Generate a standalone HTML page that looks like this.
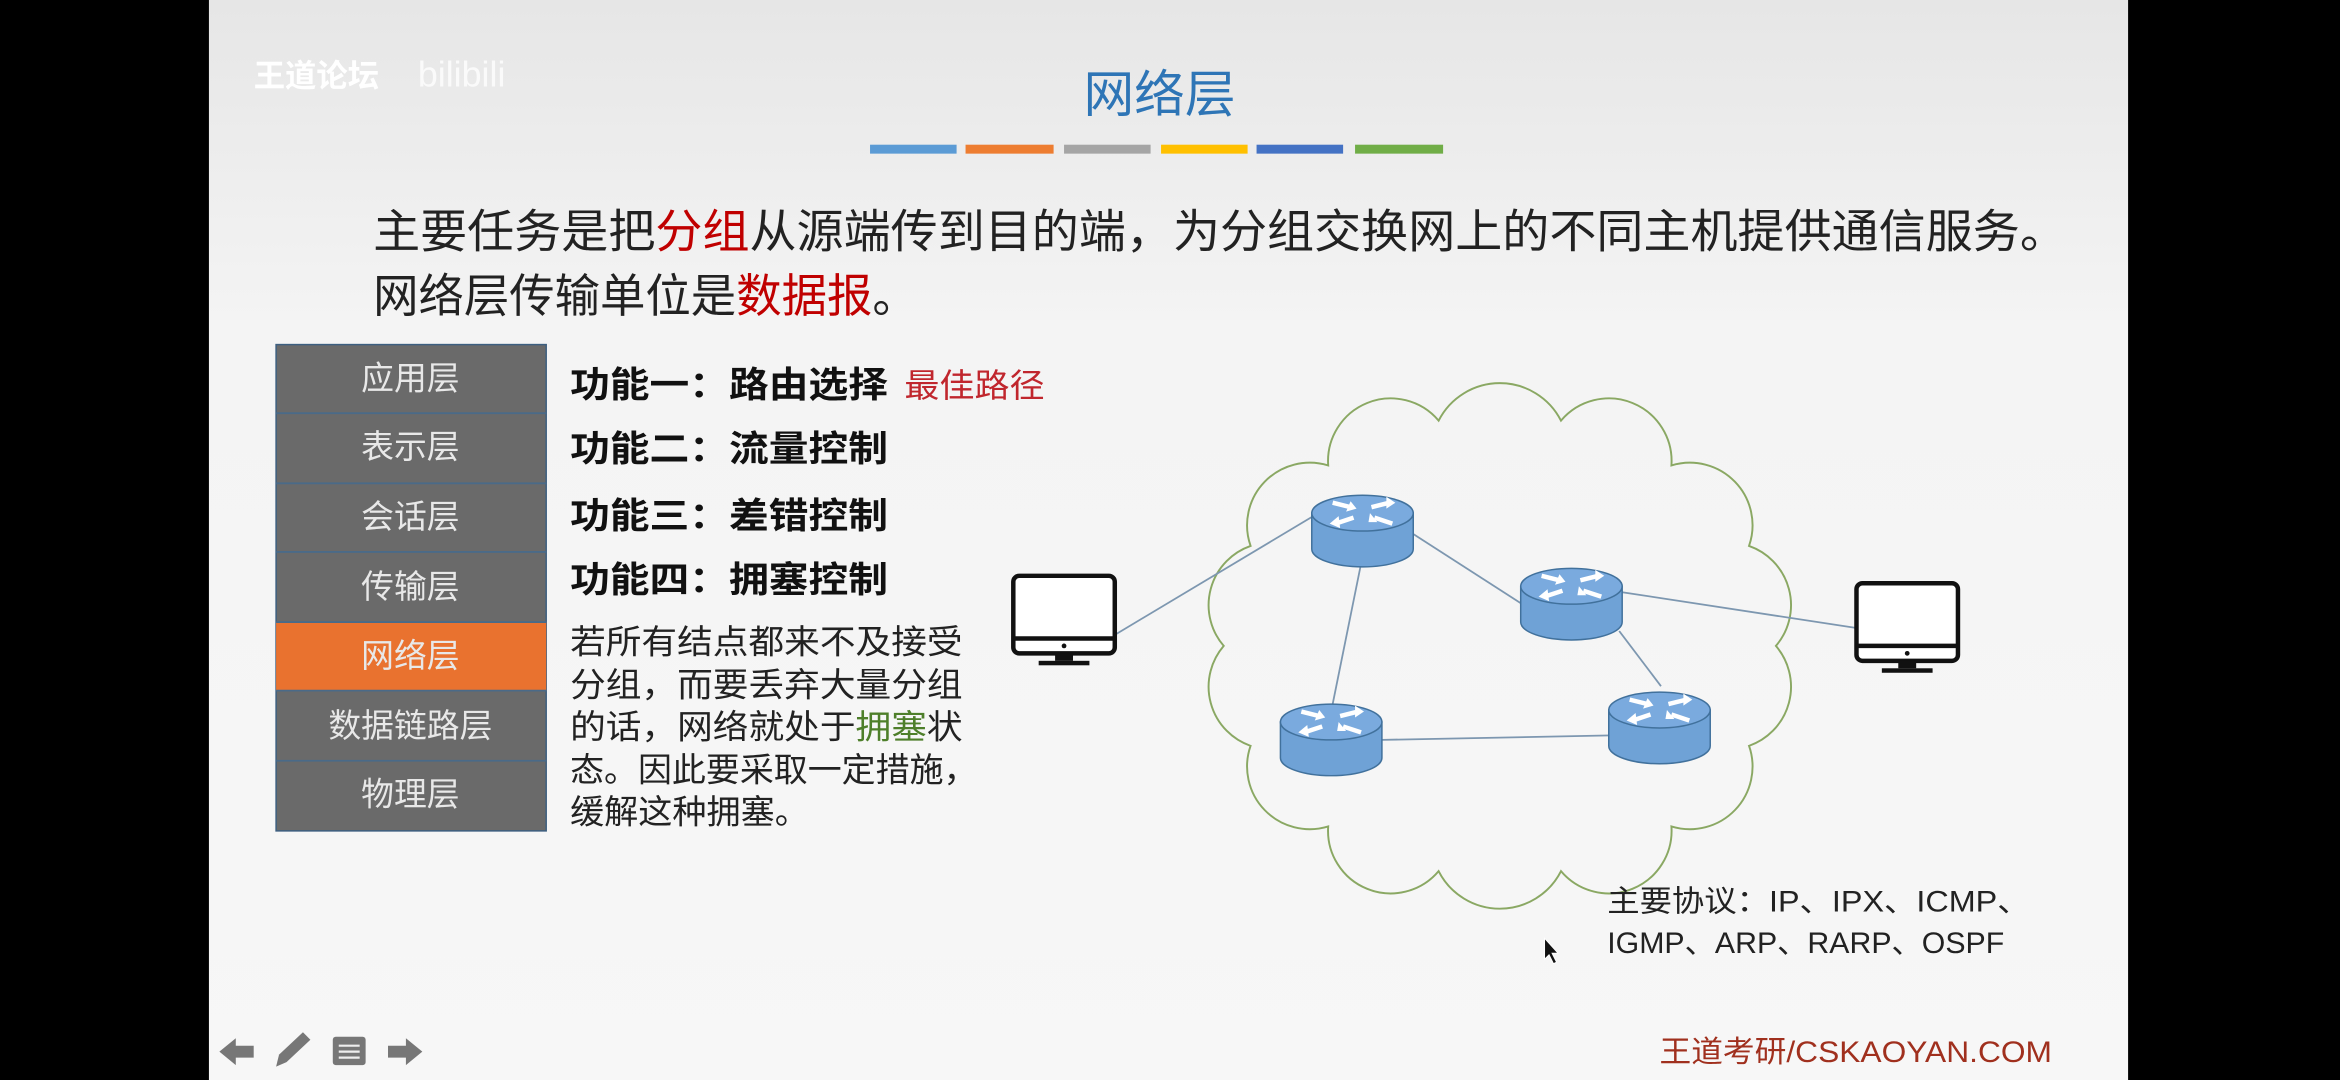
<!DOCTYPE html>
<html><head><meta charset="utf-8"><style>
html,body{margin:0;padding:0;background:#000;}
svg{display:block;}
text{font-family:"Liberation Sans","Noto Sans CJK SC",sans-serif;}
</style></head><body>
<svg width="2340" height="1080" viewBox="0 0 1568 724" preserveAspectRatio="none" xmlns="http://www.w3.org/2000/svg">
<defs>
<linearGradient id="bg" x1="0" y1="0" x2="0" y2="1">
<stop offset="0" stop-color="#e6e6e6"/><stop offset="0.3" stop-color="#f4f4f4"/><stop offset="1" stop-color="#f7f7f7"/>
</linearGradient>
<g id="router">
<path d="M-34,0 L-34,24 A34,12 0 0 0 34,24 L34,0 Z" fill="#6fa2d6" stroke="#41719c" stroke-width="1"/>
<ellipse cx="0" cy="0" rx="34" ry="12" fill="#7aaade" stroke="#41719c" stroke-width="1"/>
<g stroke="#fff" stroke-width="3" fill="#fff">
<path d="M-20,-7 L-8,-4" /><path d="M-8,-8 L-4,-3 L-11,-1 Z" stroke-width="0"/>
<path d="M6,-4 L18,-7"/><path d="M16,-11 L22,-7 L16,-3 Z" stroke-width="0"/>
<path d="M-6,3 L-18,7"/><path d="M-16,2 L-22,7 L-15,10 Z" stroke-width="0"/>
<path d="M20,7 L8,3"/><path d="M5,0 L4,6 L10,6 Z" stroke-width="0"/>
</g>
</g>
<g id="pc">
<rect x="-34" y="-28" width="68" height="52" rx="4" fill="#fff" stroke="#111" stroke-width="3"/>
<line x1="-34" y1="14" x2="34" y2="14" stroke="#111" stroke-width="3"/>
<circle cx="0" cy="19" r="1.6" fill="#111"/>
<rect x="-6" y="24" width="12" height="5" fill="#111"/>
<rect x="-17" y="29" width="34" height="3" fill="#111"/>
</g>
</defs>
<rect x="0" y="0" width="1568" height="724" fill="#000"/>
<rect x="140" y="0" width="1286" height="724" fill="url(#bg)"/>

<text x="170" y="58" font-size="21" fill="#fff" font-weight="bold">王道论坛</text>
<text x="280" y="58" font-size="24" fill="#fff" opacity="0.8">bilibili</text>

<text x="777" y="75" font-size="34" fill="#2e75b6" text-anchor="middle">网络层</text>
<rect x="583" y="97" width="58" height="6" fill="#5b9bd5"/>
<rect x="647" y="97" width="59" height="6" fill="#ed7d31"/>
<rect x="713" y="97" width="58" height="6" fill="#a5a5a5"/>
<rect x="778" y="97" width="58" height="6" fill="#ffc000"/>
<rect x="842" y="97" width="58" height="6" fill="#4472c4"/>
<rect x="908" y="97" width="59" height="6" fill="#70ad47"/>

<text x="250" y="166" font-size="31" fill="#222" textLength="1135" lengthAdjust="spacingAndGlyphs">主要任务是把<tspan fill="#c00000">分组</tspan>从源端传到目的端，为分组交换网上的不同主机提供通信服务。</text>
<text x="250" y="209" font-size="31" fill="#222" textLength="365" lengthAdjust="spacingAndGlyphs">网络层传输单位是<tspan fill="#c00000">数据报</tspan>。</text>

<g font-size="22" fill="#e8e8e8" text-anchor="middle">
<rect x="185" y="231" width="181" height="326" fill="#6a6a6a" stroke="#3d5f80" stroke-width="1"/>
<rect x="185" y="417" width="181" height="46" fill="#e9722f"/>
<g stroke="#4a6a88" stroke-width="1.2">
<line x1="185" y1="277" x2="366" y2="277"/><line x1="185" y1="324" x2="366" y2="324"/>
<line x1="185" y1="370" x2="366" y2="370"/><line x1="185" y1="417" x2="366" y2="417"/>
<line x1="185" y1="463" x2="366" y2="463"/><line x1="185" y1="510" x2="366" y2="510"/>
</g>
<text x="275" y="261">应用层</text>
<text x="275" y="307">表示层</text>
<text x="275" y="354">会话层</text>
<text x="275" y="401">传输层</text>
<text x="275" y="447">网络层</text>
<text x="275" y="494">数据链路层</text>
<text x="275" y="540">物理层</text>
</g>

<g font-size="24" fill="#111" font-weight="bold">
<text x="382" y="266" textLength="213" lengthAdjust="spacingAndGlyphs">功能一：路由选择</text>
<text x="606" y="266" fill="#c0262d" font-weight="normal" font-size="22" textLength="94" lengthAdjust="spacingAndGlyphs">最佳路径</text>
<text x="382" y="309" textLength="213" lengthAdjust="spacingAndGlyphs">功能二：流量控制</text>
<text x="382" y="354" textLength="213" lengthAdjust="spacingAndGlyphs">功能三：差错控制</text>
<text x="382" y="397" textLength="213" lengthAdjust="spacingAndGlyphs">功能四：拥塞控制</text>
</g>
<g font-size="22.5" fill="#222">
<text x="382" y="438" textLength="263" lengthAdjust="spacingAndGlyphs">若所有结点都来不及接受</text>
<text x="382" y="467" textLength="263" lengthAdjust="spacingAndGlyphs">分组，而要丢弃大量分组</text>
<text x="382" y="495" textLength="263" lengthAdjust="spacingAndGlyphs">的话，网络就处于<tspan fill="#4e7f2a">拥塞</tspan>状</text>
<text x="382" y="524" textLength="273" lengthAdjust="spacingAndGlyphs">态。因此要采取一定措施，</text>
<text x="382" y="552" textLength="160" lengthAdjust="spacingAndGlyphs">缓解这种拥塞。</text>
</g>

<path d="M1190,433 A42,42 0 0 1 1172,500 A42,42 0 0 1 1120,554 A42,42 0 0 1 1046,584 A46,46 0 0 1 964,584 A42,42 0 0 1 890,554 A42,42 0 0 1 838,500 A42,42 0 0 1 820,433 A42,42 0 0 1 838,366 A42,42 0 0 1 890,312 A42,42 0 0 1 964,282 A46,46 0 0 1 1046,282 A42,42 0 0 1 1120,312 A42,42 0 0 1 1172,366 A42,42 0 0 1 1190,433 Z" fill="none" stroke="#8aa863" stroke-width="1.3"/>

<g stroke="#7d97b0" stroke-width="1.2">
<line x1="748" y1="425" x2="880" y2="346"/>
<line x1="947" y1="358" x2="1020" y2="405"/>
<line x1="912" y1="378" x2="893" y2="472"/>
<line x1="926" y1="496" x2="1080" y2="493"/>
<line x1="1085" y1="423" x2="1113" y2="460"/>
<line x1="1087" y1="397" x2="1244" y2="421"/>
</g>
<use href="#router" x="913" y="344"/>
<use href="#router" x="1053" y="393"/>
<use href="#router" x="892" y="484"/>
<use href="#router" x="1112" y="476"/>
<use href="#pc" x="713" y="414"/>
<use href="#pc" x="1278" y="419"/>

<text x="1077" y="611" font-size="20" fill="#222" textLength="283" lengthAdjust="spacingAndGlyphs">主要协议：IP、IPX、ICMP、</text>
<text x="1077" y="639" font-size="20" fill="#222" textLength="266" lengthAdjust="spacingAndGlyphs">IGMP、ARP、RARP、OSPF</text>
<path d="M1035,629 L1035,643 L1038,640 L1041,646 L1043,645 L1040,639 L1044,639 Z" fill="#111" stroke="#fff" stroke-width="0.6"/>

<text x="1112" y="712" font-size="20" fill="#a0301e" textLength="263" lengthAdjust="spacingAndGlyphs">王道考研/CSKAOYAN.COM</text>

<g fill="#777">
<path d="M147,705 L158,696 L158,701 L170,701 L170,709 L158,709 L158,714 Z"/>
<path d="M185,715 L187,707 L203,692 L208,697 L192,712 Z"/>
<rect x="223" y="695" width="22" height="19" rx="2"/>
<path d="M283,705 L272,696 L272,701 L260,701 L260,709 L272,709 L272,714 Z"/>
</g>
<g stroke="#eee" stroke-width="1.5"><line x1="227" y1="701" x2="241" y2="701"/><line x1="227" y1="705" x2="241" y2="705"/><line x1="227" y1="709" x2="241" y2="709"/></g>
</svg>
</body></html>
